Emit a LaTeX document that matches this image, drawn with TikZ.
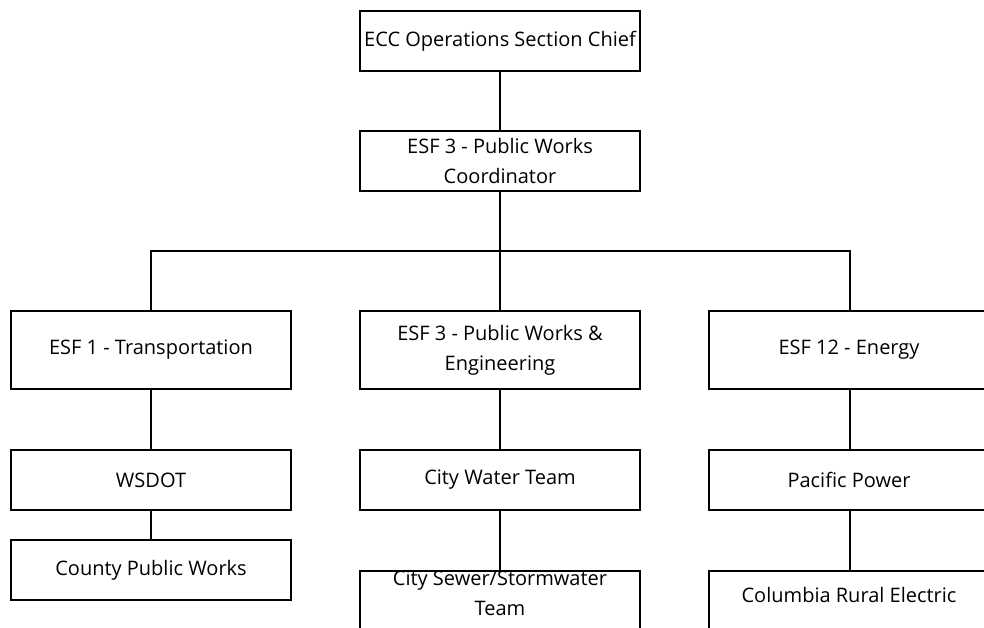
\documentclass[tikz,border=0pt]{standalone}
\usepackage{fontspec}
\setmainfont{Open Sans}
\usepackage{tikz}
\usetikzlibrary{positioning}

\begin{document}
\begin{tikzpicture}[x=1pt, y=-1pt,
  every node/.style={font=\fontsize{20}{30}\selectfont, align=center},
  unit/.style={draw, line width=2.4pt, minimum width=280pt, inner sep=2pt},
  link/.style={line width=2.4pt}]
\clip (0,0) rectangle (984,627);
% top of the chart
\node[unit, minimum height=60pt] (ecc) at (500,41) {ECC Operations Section Chief};
\node[unit, minimum height=60pt] (coord) at (500,161) {ESF 3 - Public Works\\Coordinator};
%
\node[unit, minimum height=78pt] (esf1) at (151,350) {ESF 1 - Transportation};
\node[unit, minimum height=78pt] (esf3) at (500,350) {ESF 3 - Public Works \&\\Engineering};
\node[unit, minimum height=78pt] (esf12) at (849,350) {ESF 12 - Energy};
%
\node[unit, minimum height=60pt] (wsdot) at (151,480) {WSDOT};
\node[unit, minimum height=60pt] (water) at (500,480) {City Water Team};
\node[unit, minimum height=60pt] (pacific) at (849,480) {Pacific Power};
%
\node[unit, minimum height=60pt] (county) at (151,570) {County Public Works};
\node[unit, anchor=north, inner ysep=0pt, text depth=70pt] (sewer) at (500,570) {City Sewer/Stormwater\\Team};
\node[unit, anchor=north, inner ysep=16pt, text depth=70pt] (columbia) at (849,570) {Columbia Rural Electric};
%
\coordinate (bus) at (500,251);
\draw[link] (ecc) -- (coord);
\draw[link] (coord) -- (bus);
\draw[link] (esf1.north) |- (bus) -| (esf12.north -| 850,0);
\draw[link] (bus) -- (esf3);
%
\draw[link] (esf1) -- (wsdot);
\draw[link] (wsdot) -- (county);
\draw[link] (esf3) -- (water);
\draw[link] (water) -- (sewer);
\draw[link] (esf12.south -| 850,0) -- (pacific.north -| 850,0);
\draw[link] (pacific.south -| 850,0) -- (columbia.north -| 850,0);
\end{tikzpicture}
\end{document}
